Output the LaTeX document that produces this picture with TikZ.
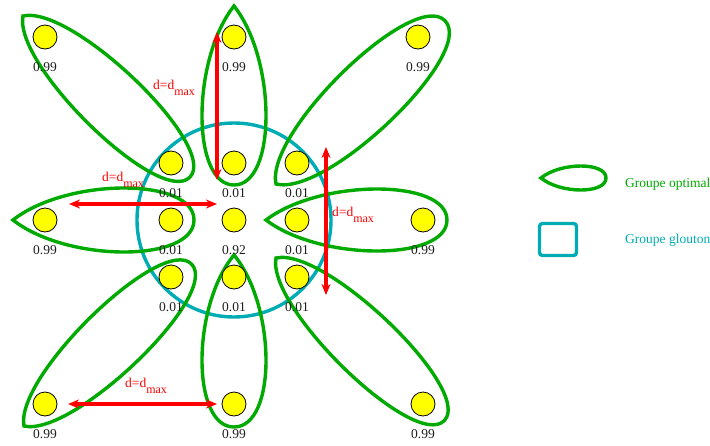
\documentclass[tikz,border=0pt]{standalone}
\usepackage{fontspec}
\setmainfont{Liberation Serif}
\usetikzlibrary{arrows.meta}
\definecolor{grn}{RGB}{0,170,0}
\definecolor{tealc}{RGB}{0,172,180}
\definecolor{redc}{RGB}{255,0,0}
\definecolor{yelc}{RGB}{255,255,0}
\definecolor{txtc}{RGB}{30,30,30}
% petal: #1 tip point, #2 angle, #3 length, #4 half width, #5 tip factor
\newcommand\petalshape[5]{\draw[grp,shift={(#1)},rotate=#2] (0,0) .. controls ({#5*#3},{#4/0.75}) and (#3,{#4/0.75}) .. (#3,0) .. controls (#3,{-#4/0.75}) and ({#5*#3},{-#4/0.75}) .. cycle;}
\begin{document}
\begin{tikzpicture}[x=1pt,y=-1pt,
  grp/.style={draw=grn,line width=3.4pt},
  dot/.style={circle,draw=black,line width=0.8pt,fill=yelc,minimum size=24pt,inner sep=0pt},
  val/.style={font=\fontsize{13.5}{14}\selectfont,text=txtc,inner sep=0pt},
  dm/.style={text=redc,font=\fontsize{13.5}{14}\selectfont,inner sep=0pt,anchor=base west},
  dist/.style={draw=redc,line width=3.4pt,{Stealth[length=11pt,width=9pt,inset=3.5pt]}-{Stealth[length=11pt,width=9pt,inset=3.5pt]}},
  leg/.style={font=\fontsize{13.5}{14}\selectfont,inner sep=0pt,anchor=base west}]
\useasboundingbox (0,0) rectangle (710,445);
% glouton group
\draw[draw=tealc,line width=3.4pt] (234,220) circle[radius=97];
% optimal groups
\petalshape{234,6}{-90}{179}{32}{0.3}
\petalshape{234,255}{-90}{172}{32}{0.3}
\petalshape{13,220}{0}{181}{32}{0.3}
\petalshape{266,220}{0}{181}{31}{0.3}
\petalshape{23,16}{-44}{232}{32}{0.12}
\petalshape{276,184}{44}{235}{34}{0.12}
\petalshape{24,426}{44}{233}{32}{0.12}
\petalshape{276,258}{-44}{234}{32}{0.12}
% distance arrows
\coordinate (a1s) at (217,32); \coordinate (a1e) at (217,180);
\coordinate (a2s) at (69,204); \coordinate (a2e) at (217,204);
\coordinate (a3s) at (326,147); \coordinate (a3e) at (326,295);
\coordinate (a4s) at (68,404); \coordinate (a4e) at (217,404);
\draw[dist] (a1s) -- (a1e);
\draw[dist] (a2s) -- (a2e);
\draw[dist] (a3s) -- (a3e);
\draw[dist] (a4s) -- (a4e);
\node[dm] (l1) at (153,89.5) {d=d\raisebox{-5.5pt}{\fontsize{12}{12}\selectfont max}};
\node[dm] (l2) at (102,181.5) {d=d\raisebox{-5.5pt}{\fontsize{12}{12}\selectfont max}};
\node[dm] (l3) at (332,216.5) {d=d\raisebox{-5.5pt}{\fontsize{12}{12}\selectfont max}};
\node[dm] (l4) at (125,387.5) {d=d\raisebox{-5.5pt}{\fontsize{12}{12}\selectfont max}};
% points
\foreach \n/\x/\y/\v in {o1/45/37/0.99, o2/234/37/0.99, o3/418/37/0.99,
  i1/171/163/0.01, i2/234/163/0.01, i3/297/163/0.01,
  o4/45/220/0.99, i4/171/220/0.01, c/234/220/0.92, i5/297/220/0.01, o5/423/220/0.99,
  i6/171/277/0.01, i7/234/277/0.01, i8/297/277/0.01,
  o6/45/404/0.99, o7/234/404/0.99, o8/423/404/0.99}{
  \node[dot] (\n) at (\x,\y) {};
  \node[val] (\n-v) at (\x,\y+30) {\v};
}
% legend
\petalshape{541,178}{0}{65}{12}{0.3}
\node[leg,text=grn] (lego) at (625,187) {Groupe optimal};
\draw[draw=tealc,line width=3.4pt,rounded corners=3pt] (539.5,223.5) rectangle (576.5,255.5);
\node[leg,text=tealc] (legg) at (625,243) {Groupe glouton};
\end{tikzpicture}
\end{document}
